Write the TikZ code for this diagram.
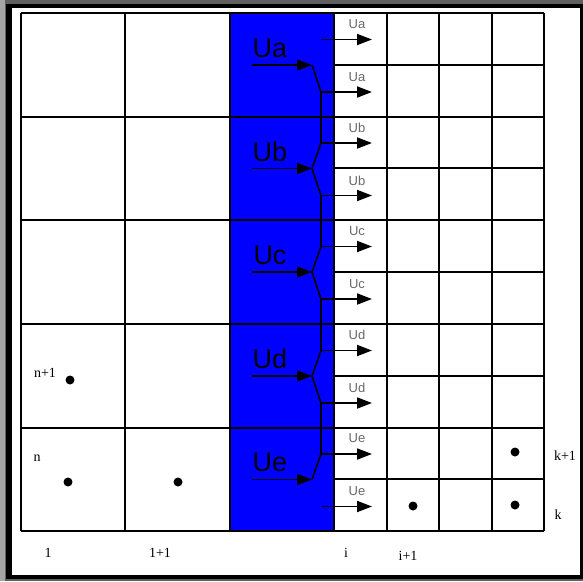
\documentclass[tikz,border=0pt]{standalone}
\usepackage{fontspec}
\setmainfont{Liberation Serif}
\newfontfamily\labelsans{Liberation Sans}
\usetikzlibrary{arrows.meta}
\definecolor{cellblue}{RGB}{0,0,255}
\definecolor{framegray}{RGB}{96,96,96}
\definecolor{edgegray}{RGB}{165,165,165}
\definecolor{tinygray}{RGB}{105,105,105}

\begin{document}
\begin{tikzpicture}[x=1pt,y=-1pt,>={Triangle[length=15pt,width=11pt]},
    gridline/.style={line width=1.6pt},
    flow/.style={->,line width=1.8pt},
    branch/.style={line width=1.6pt},
    bigu/.style={font=\labelsans\fontsize{27}{27}\selectfont},
    smallu/.style={font=\labelsans\fontsize{13}{13}\selectfont,text=tinygray},
    idx/.style={font=\fontsize{14}{14}\selectfont},
    dot/.style={circle,fill,inner sep=0pt,minimum size=9pt}]
  \useasboundingbox (0,0) rectangle (583,581);
  % frame
  \fill[framegray] (0,0) rectangle (583,581);
  \fill[edgegray] (0,0) rectangle (5,581);
  \fill[black] (6,4) rectangle (583,579);
  \fill[white] (12,8) rectangle (580,575);
  % blue column
  \fill[cellblue] (230,13) rectangle (334,531);
  % grid
  \foreach \x in {21,125,230,334,387,439,492,544}
    \draw[gridline] (\x,13) -- (\x,531);
  \foreach \y in {13,117,220,324,428,531}
    \draw[gridline] (21,\y) -- (544,\y);
  \foreach \y in {65,168,272,376,479}
    \draw[gridline] (334,\y) -- (544,\y);
  % velocities entering and leaving column i
  \foreach \r/\yc/\u in {a/65/Ua,b/168.5/Ub,c/272/Uc,d/376/Ud,e/479.5/Ue} {
    \node[bigu] (big\r) at (270,\yc-17) {\u};
    \coordinate (in\r) at (252,\yc);
    \coordinate (tip\r) at (312,\yc);
    \coordinate (up\r) at (321,\yc-25.5);
    \coordinate (lo\r) at (321,\yc+27);
    \coordinate (upend\r) at (372,\yc-25.5);
    \coordinate (loend\r) at (372,\yc+27);
    \node[smallu] (upu\r) at (357,\yc-41) {\u};
    \node[smallu] (lou\r) at (357,\yc+12) {\u};
    \draw[flow] (in\r) -- (tip\r);
    \draw[flow] (up\r) -- (upend\r);
    \draw[flow] (lo\r) -- (loend\r);
  }
  \draw[branch] (tipa) -- (loa);
  \foreach \r in {b,c,d}
    \draw[branch] (up\r) -- (tip\r) -- (lo\r);
  \draw[branch] (upe) -- (tipe);
  \draw[branch] (loa) -- (upb);
  \draw[branch] (lob) -- (upc);
  \draw[branch] (loc) -- (upd);
  \draw[branch] (lod) -- (upe);
  % cell indices
  \node[idx] (c1) at (48,553) {1};
  \node[idx] (c2) at (160,553) {1+1};
  \node[idx] (ci) at (346,553) {i};
  \node[idx] (ci1) at (408,556) {i+1};
  \node[idx] (rn1) at (45,373) {n+1};
  \node[idx] (rn) at (37,458) {n};
  \node[idx] (rk1) at (565,456) {k+1};
  \node[idx] (rk) at (558,515) {k};
  % grid points
  \node[dot] (p1) at (70,380) {};
  \node[dot] (p2) at (68,482) {};
  \node[dot] (p3) at (178,482) {};
  \node[dot] (p4) at (413,506) {};
  \node[dot] (p5) at (515,452) {};
  \node[dot] (p6) at (515,505) {};
\end{tikzpicture}
\end{document}
